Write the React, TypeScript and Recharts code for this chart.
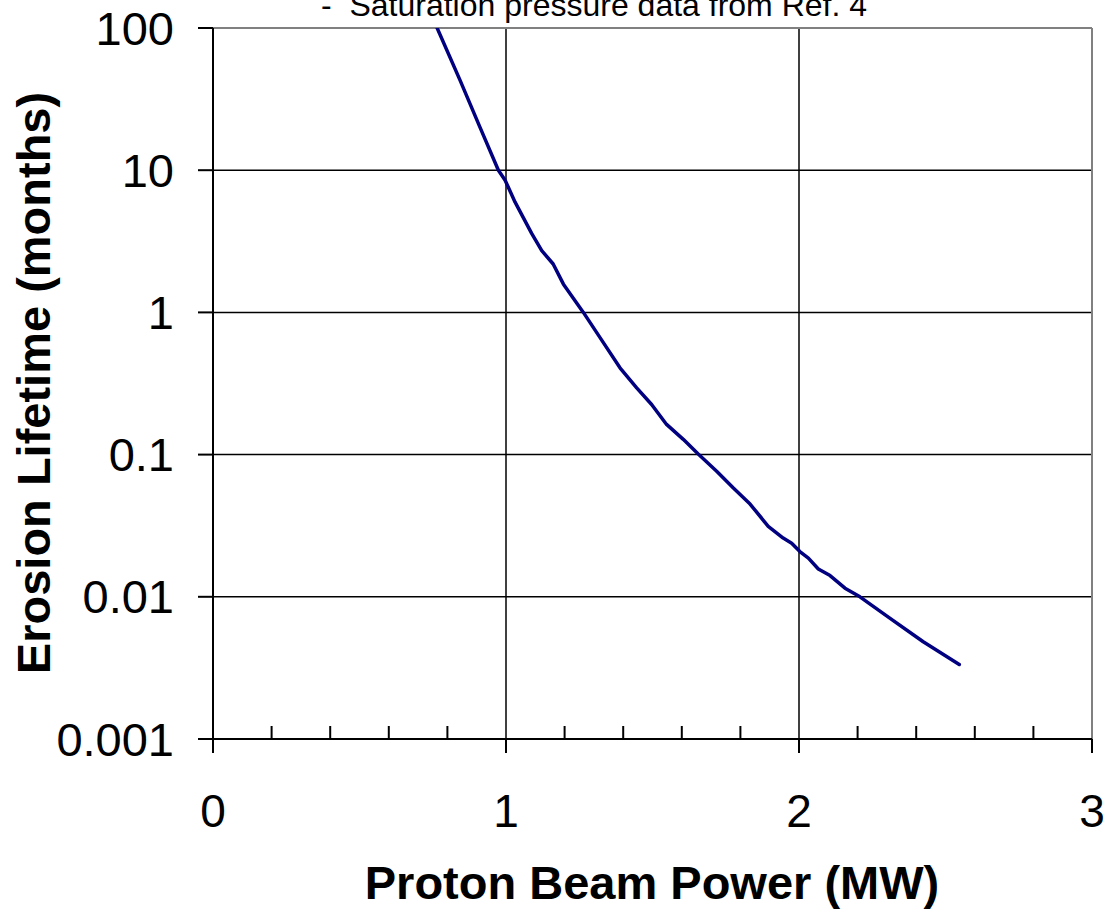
import { Line, LineChart, ReferenceLine, XAxis, YAxis } from "recharts";

const powerMW = [
  0.765, 0.843, 0.911, 0.974, 0.997, 1.031, 1.088, 1.122, 1.161, 1.196, 1.264,
  1.321, 1.389, 1.446, 1.497, 1.548, 1.605, 1.656, 1.719, 1.776, 1.833, 1.895,
  1.946, 1.975, 2.003, 2.032, 2.066, 2.106, 2.157, 2.208, 2.311, 2.424, 2.547,
];

const lifetimeMonths = [
  100, 43, 20.1, 10, 8.5, 5.96, 3.58, 2.72, 2.19, 1.58, 1.0,
  0.665, 0.408, 0.295, 0.225, 0.163, 0.128, 0.101, 0.0764, 0.0582, 0.0449, 0.0313,
  0.0259, 0.0238, 0.0208, 0.0187, 0.0157, 0.0141, 0.0115, 0.01, 0.00705, 0.00483, 0.00334,
];

const xTicks = [0, 0.2, 0.4, 0.6, 0.8, 1, 1.2, 1.4, 1.6, 1.8, 2, 2.2, 2.4, 2.6, 2.8, 3];
const yTicks = [0.001, 0.01, 0.1, 1, 10, 100];
const yTickLabels = ["0.001", "0.01", "0.1", "1", "10", "100"];
const gridX = [1, 2];
const gridY = [0.01, 0.1, 1, 10];

const title = "-  Saturation pressure data from Ref. 4";
const xTitle = "Proton Beam Power (MW)";
const yTitle = "Erosion Lifetime (months)";

const data = powerMW.map((x, i) => ({ x, y: lifetimeMonths[i] }));

const font = "'Liberation Sans', Arial, sans-serif";

function XTick(props: any) {
  const { x, y, payload } = props;
  const v = payload.value as number;
  const major = Math.abs(v - Math.round(v)) < 1e-6;
  if (!major) {
    return <line x1={x} x2={x} y1={y} y2={y - 13} stroke="#000" strokeWidth={2} />;
  }
  return (
    <g>
      <line x1={x} x2={x} y1={y} y2={y + 14} stroke="#000" strokeWidth={2} />
      <text x={x} y={y + 88} textAnchor="middle" fontSize={46} fontFamily={font} fill="#000">
        {Math.round(v)}
      </text>
    </g>
  );
}

export default function App() {
  return (
    <div style={{ position: "absolute", left: 0, top: 0, width: 1112, height: 913, background: "#fff" }}>
      <LineChart
        width={1112}
        height={913}
        data={data}
        margin={{ top: 28, right: 20, bottom: 0, left: 0 }}
      >
        <XAxis
          type="number"
          dataKey="x"
          domain={[0, 3]}
          ticks={xTicks}
          interval={0}
          height={174}
          tickSize={0}
          tickMargin={0}
          tickLine={false}
          axisLine={{ stroke: "#000", strokeWidth: 2 }}
          tick={<XTick />}
        />
        <YAxis
          type="number"
          scale="log"
          domain={[0.001, 100]}
          ticks={yTicks}
          interval={0}
          width={213}
          tickSize={15}
          tickMargin={24}
          tickLine={{ stroke: "#000", strokeWidth: 2 }}
          axisLine={{ stroke: "#000", strokeWidth: 2 }}
          tick={{ fontSize: 47, fill: "#000", fontFamily: font }}
          tickFormatter={(v: number) => yTickLabels[yTicks.indexOf(v)] ?? String(v)}
          allowDataOverflow
        />
        {gridY.map((v) => (
          <ReferenceLine key={`gy${v}`} y={v} stroke="#000" strokeWidth={1.5} />
        ))}
        {gridX.map((v) => (
          <ReferenceLine key={`gx${v}`} x={v} stroke="#000" strokeWidth={1.5} />
        ))}
        <ReferenceLine y={100} stroke="#808080" strokeWidth={2} />
        <ReferenceLine x={3} stroke="#808080" strokeWidth={2} />
        <Line
          type="linear"
          dataKey="y"
          stroke="#000080"
          strokeWidth={3.5}
          strokeLinecap="round"
          strokeLinejoin="round"
          dot={false}
          activeDot={false}
          isAnimationActive={false}
        />
      </LineChart>
      <svg
        width={1112}
        height={913}
        style={{ position: "absolute", left: 0, top: 0, pointerEvents: "none" }}
      >
        <text x={321} y={16} fontSize={32} fontFamily={font} fill="#000" style={{ whiteSpace: "pre" }}>
          {title}
        </text>
        <text x={652} y={899} textAnchor="middle" fontSize={47} fontWeight="bold" fontFamily={font} fill="#000">
          {xTitle}
        </text>
        <text
          x={-383}
          y={50}
          transform="rotate(-90)"
          textAnchor="middle"
          fontSize={47}
          fontWeight="bold"
          fontFamily={font}
          fill="#000"
        >
          {yTitle}
        </text>
      </svg>
    </div>
  );
}
